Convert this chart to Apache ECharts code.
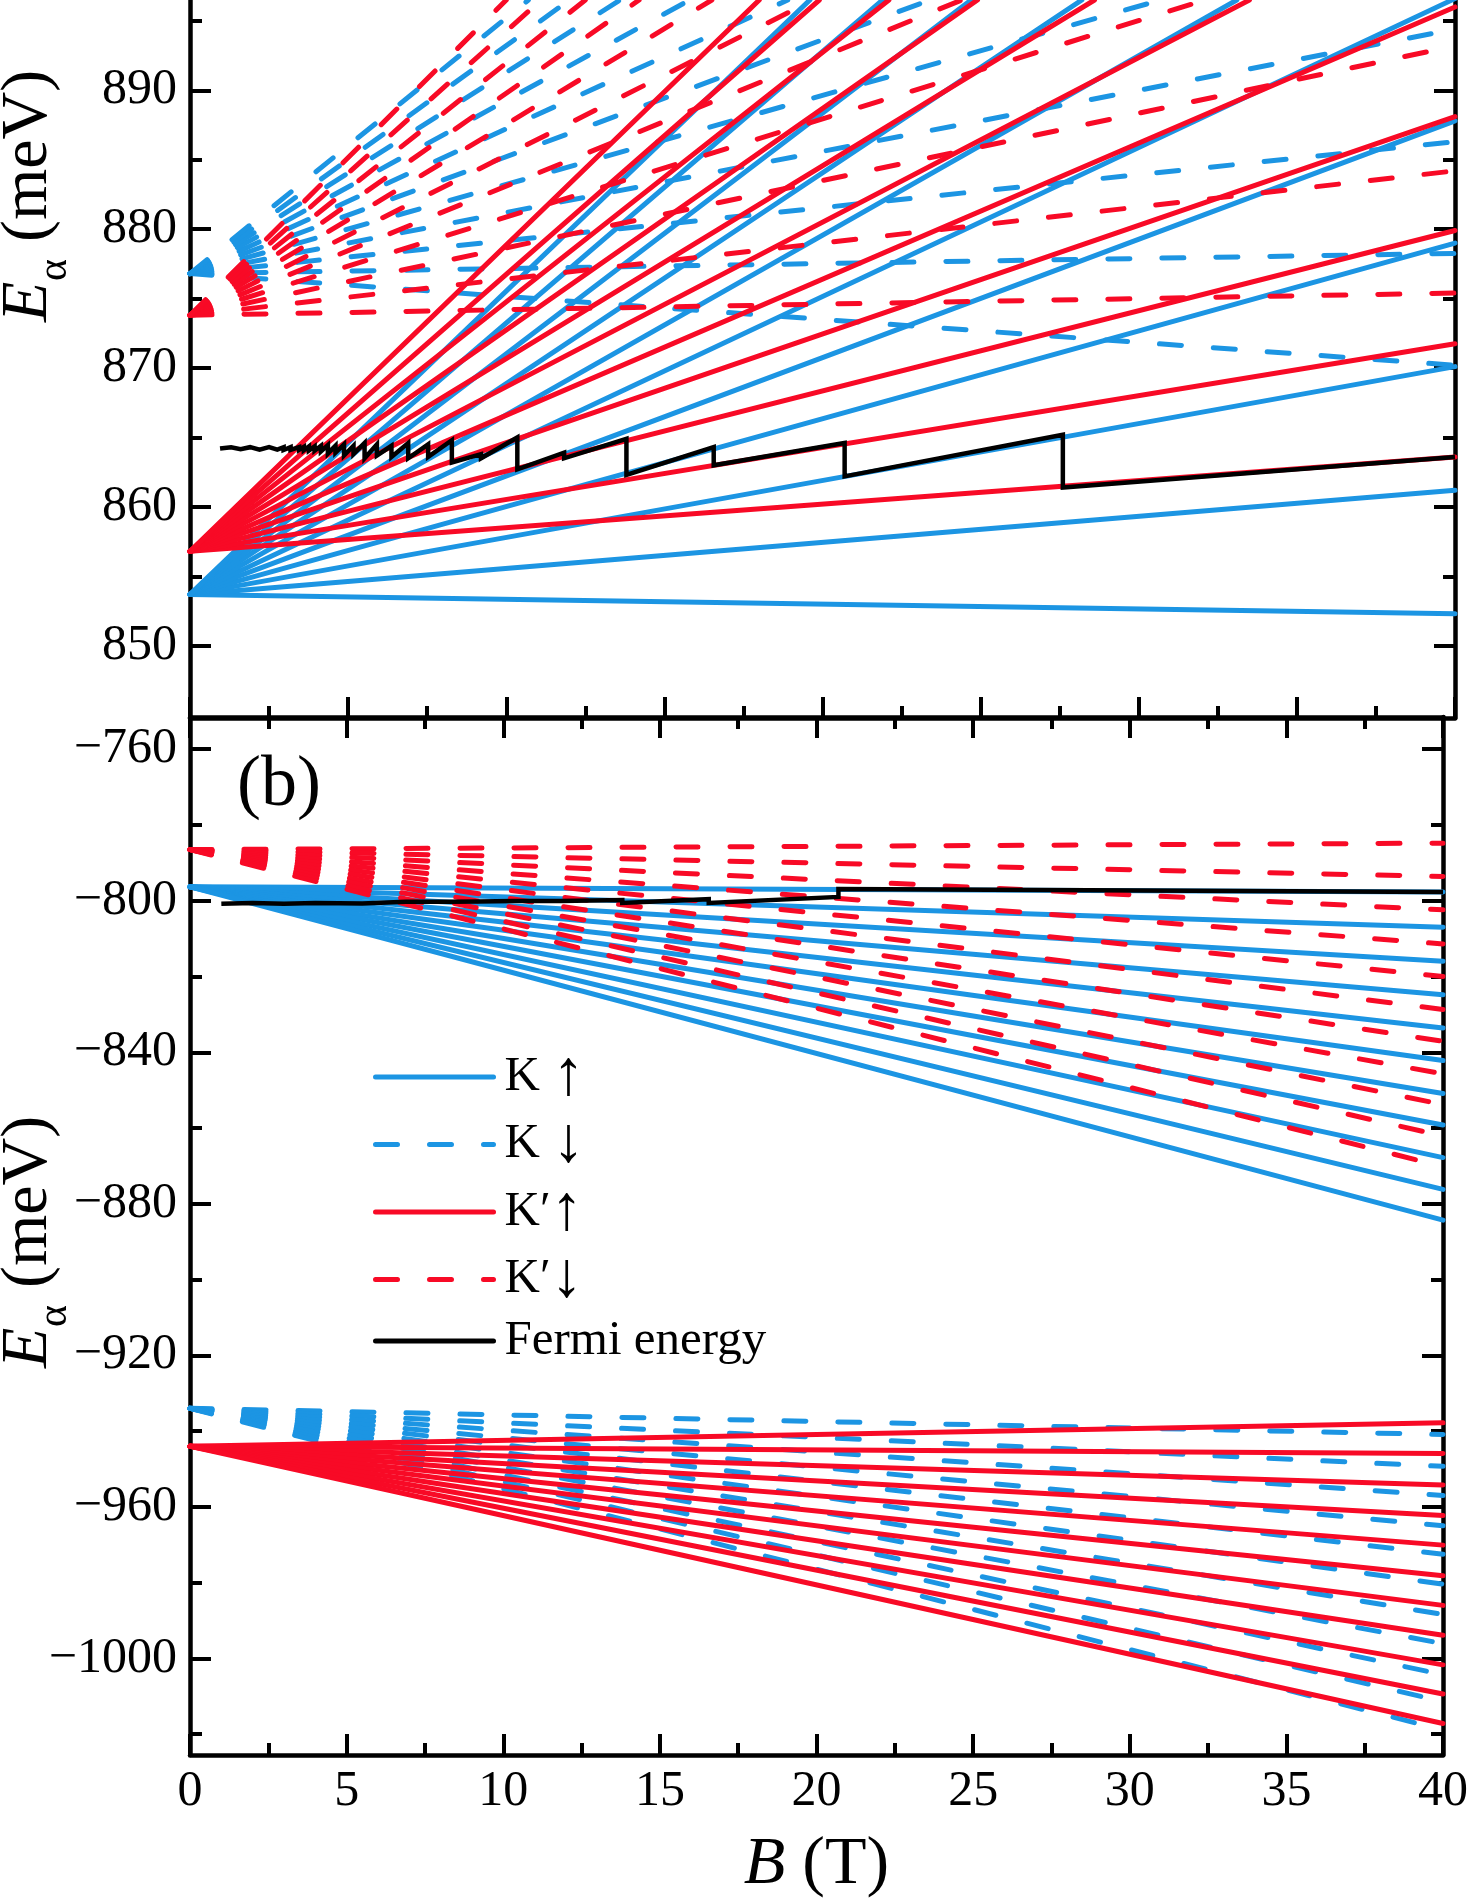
<!DOCTYPE html>
<html>
<head>
<meta charset="utf-8">
<script src="https://cdn.jsdelivr.net/npm/echarts@6/dist/echarts.min.js"></script>
<style>
html,body{margin:0;padding:0;background:#fff;}
#chart{width:1471px;height:1904px;}
</style>
</head>
<body>
<div id="chart"></div>
<script>
// ---------------- data ----------------
const B_MIN = 0, B_MAX = 40;

// panel (a): conduction band
const topRange = [844.8, 896.5];
const topMajorTicks = [850, 860, 870, 880, 890];
const topMinorTicks = [855, 865, 875, 885, 895];

// K up (blue solid): energy at B=0 and line end points [B, E]
const cbKUpStart = 853.7;
const cbKUpEnds = [[40,852.3],[40,861.2],[40,870.1],[40,879.0],[40,887.8],[40,896.6],[33.1,896.5],[28.2,896.5],[24.7,896.5],[21.9,896.5],[19.6,896.5]];
// K' up (red solid)
const cbKpUpStart = 856.8;
const cbKpUpEnds = [[40,863.6],[40,871.75],[40,879.9],[40,888.1],[40,896.0],[33.5,896.5],[28.6,896.5],[24.9,896.5],[22.1,896.5],[19.9,896.5],[18.0,896.5]];
// K down (blue dashed)
const cbKDnStart = 876.8;
const cbKDnEnds = [[40,870.2],[40,878.25],[40,886.3],[40,894.4],[30.7,896.5],[23.4,896.5],[18.9,896.5],[15.8,896.5],[13.6,896.5],[12.0,896.5],[10.7,896.5]];
// K' down (red dashed)
const cbKpDnStart = 873.8;
const cbKpDnEnds = [[40,875.4],[40,884.2],[40,893.2],[32.1,896.5],[24.4,896.5],[19.7,896.5],[16.5,896.5],[14.2,896.5],[12.5,896.5],[11.1,896.5],[10.0,896.5]];
// Fermi energy (a)
const fermiTop = [[0.95,864.2],[1.3,864.3],[1.6,864.15],[1.9,864.3],[2.2,864.12],[2.5,864.3],[2.76,864.12],
  [2.96,864.3],[2.96,864.1],[3.18,864.3],[3.18,864.1],[3.45,864.3],[3.45,864.1],
  [3.6,864.32],[3.6,864.08],[3.76,864.35],[3.76,864.05],[3.94,864.35],[3.94,864.05],
  [4.14,864.4],[4.14,864.0],[4.36,864.45],[4.36,863.85],[4.6,864.4],[4.6,863.9],
  [4.87,864.5],[4.87,863.7],[5.17,864.4],[5.17,863.8],[5.52,864.6],[5.52,863.5],
  [5.91,864.5],[5.91,863.7],[6.37,864.4],[6.37,863.6],[6.9,864.6],[6.9,863.5],
  [7.53,864.5],[7.53,863.6],[8.28,864.8],[8.28,863.2],[9.2,863.8],[9.2,863.5],
  [10.35,865.0],[10.35,862.7],[11.83,863.9],[11.83,863.5],[13.8,864.9],[13.8,862.3],
  [16.56,864.3],[16.56,863.0],[20.7,864.6],[20.7,862.2],[27.6,865.2],[27.6,861.4],[40,863.6]];

// panel (b): valence band
const botRange = [-1025.5, -751.5];
const botMajorTicks = [-1000, -960, -920, -880, -840, -800, -760];
const botMinorTicks = [-1020, -980, -940, -900, -860, -820, -780];

const vbKUpStart = -796.3;     // blue solid, ends at B=40
const vbKUpEnds = [-797.7,-807.0,-816.0,-824.8,-833.6,-842.2,-850.9,-859.2,-867.8,-876.2,-884.3];
const vbKpDnStart = -786.5;    // red dashed
const vbKpDnEnds = [-784.8,-793.6,-802.4,-811.4,-820.0,-828.7,-837.1,-845.7,-853.8,-862.1,-870.2];
const vbKDnStart = -934.0;     // blue dashed
const vbKDnEnds = [-940.9,-949.3,-957.0,-965.0,-972.5,-980.4,-988.4,-996.1,-1004.3,-1011.4,-1018.9];
const vbKpUpStart = -944.0;    // red solid
const vbKpUpEnds = [-937.8,-945.9,-954.2,-962.3,-970.1,-978.2,-986.0,-993.9,-1001.7,-1009.4,-1017.2];
const fermiBot = [[1.0,-800.8],[2.0,-800.6],[3.0,-800.8],[4.0,-800.6],[5.5,-800.7],[6.9,-800.3],[8.28,-800.3],[8.28,-800.6],[9.2,-800.2],[9.2,-800.5],
  [10.35,-800.1],[10.35,-800.5],[11.83,-800.1],[11.83,-800.5],[13.8,-799.8],[13.8,-800.6],
  [16.56,-799.6],[16.56,-800.6],[20.7,-799.0],[20.7,-796.9],[40,-797.7]];

const legendNames = ['K \u2191', 'K \u2193', 'K\u2032\u2191', 'K\u2032\u2193', 'Fermi energy'];

// ---------------- styles ----------------
const BLUE = '#1C95E3', RED = '#F80A26', BLACK = '#000';
const FONT = '"Liberation Serif", "Times New Roman", Times, serif';
const DASH = [22, 32];
const LW = 5;

function lineSeries(name, start, ends, color, dashed, xi, yi, z) {
  return ends.map(function (e) {
    const end = Array.isArray(e) ? e : [B_MAX, e];
    return {
      type: 'line', name: name, xAxisIndex: xi, yAxisIndex: yi,
      data: [[B_MIN, start], end], symbol: 'none', silent: true, z: z,
      itemStyle: { color: color },
      lineStyle: { color: color, width: LW, type: dashed ? DASH : 'solid', cap: 'round' }
    };
  });
}

let series = [];
// top panel
series = series.concat(lineSeries(legendNames[0], cbKUpStart, cbKUpEnds, BLUE, false, 0, 0, 2));
series = series.concat(lineSeries(legendNames[1], cbKDnStart, cbKDnEnds, BLUE, true, 0, 0, 2));
series = series.concat(lineSeries(legendNames[2], cbKpUpStart, cbKpUpEnds, RED, false, 0, 0, 3));
series = series.concat(lineSeries(legendNames[3], cbKpDnStart, cbKpDnEnds, RED, true, 0, 0, 3));
series.push({ type: 'line', name: legendNames[4], xAxisIndex: 0, yAxisIndex: 0, data: fermiTop, symbol: 'none', silent: true, z: 4,
  itemStyle: { color: BLACK }, lineStyle: { color: BLACK, width: 4.5, join: 'miter' } });
// bottom panel
series = series.concat(lineSeries(legendNames[0], vbKUpStart, vbKUpEnds, BLUE, false, 2, 4, 2));
series = series.concat(lineSeries(legendNames[1], vbKDnStart, vbKDnEnds, BLUE, true, 2, 4, 2));
series = series.concat(lineSeries(legendNames[2], vbKpUpStart, vbKpUpEnds, RED, false, 2, 4, 3));
series = series.concat(lineSeries(legendNames[3], vbKpDnStart, vbKpDnEnds, RED, true, 2, 4, 3));
series.push({ type: 'line', name: legendNames[4], xAxisIndex: 2, yAxisIndex: 4, data: fermiBot, symbol: 'none', silent: true, z: 4,
  itemStyle: { color: BLACK }, lineStyle: { color: BLACK, width: 4.5, join: 'miter' } });

const AXW = 4.5;
function xAxisCfg(grid, pos, labels) {
  return {
    type: 'value', gridIndex: grid, position: pos, min: B_MIN, max: B_MAX, interval: 5,
    axisLine: { show: true, onZero: false, lineStyle: { color: BLACK, width: AXW } },
    axisTick: { show: true, inside: true, length: 21, lineStyle: { color: BLACK, width: 4 } },
    minorTick: { show: true, splitNumber: 2, length: 12, lineStyle: { color: BLACK, width: 4 } },
    axisLabel: { show: labels, fontFamily: FONT, fontSize: 50, color: BLACK, margin: 12 },
    splitLine: { show: false }, minorSplitLine: { show: false }
  };
}
function yAxisCfg(grid, pos, range, ticks, major, labels) {
  return {
    type: 'value', gridIndex: grid, position: pos, min: range[0], max: range[1],
    axisLine: { show: major, onZero: false, lineStyle: { color: BLACK, width: AXW } },
    axisTick: { show: true, inside: true, length: major ? 21 : 12, customValues: ticks, lineStyle: { color: BLACK, width: 4 } },
    axisLabel: { show: labels, customValues: ticks, fontFamily: FONT, fontSize: 50, color: BLACK, margin: 13,
      formatter: function (v) { return String(v).replace('-', '\u2212'); } },
    splitLine: { show: false }
  };
}

function yTitle(cx, cy) {
  // rotated group: local +x goes up the page
  return {
    type: 'group', x: cx, y: cy, rotation: Math.PI / 2, silent: true,
    children: [
      { type: 'text', x: 0, y: 14, style: { text: 'E', font: 'italic 66px "Liberation Serif"', fill: BLACK, align: 'left', verticalAlign: 'bottom' } },
      { type: 'text', x: 41, y: 28, style: { text: '\u03b1', font: '42px "Liberation Serif"', fill: BLACK, align: 'left', verticalAlign: 'bottom' } },
      { type: 'text', x: 80, y: 14, style: { text: '(meV)', font: '66px "Liberation Serif"', fill: BLACK, align: 'left', verticalAlign: 'bottom' } }
    ]
  };
}

function legendItem(i, color, dashed) {
  return { name: legendNames[i], itemStyle: { opacity: 0 },
    lineStyle: { color: color, width: 5, type: dashed ? [22, 32] : 'solid', cap: 'round' } };
}

const option = {
  animation: false,
  backgroundColor: '#fff',
  grid: [
    { left: 190, right: 16, top: 0, height: 718, containLabel: false },
    { left: 190, right: 16, top: 717, height: 1044, containLabel: false }
  ],
  xAxis: [
    xAxisCfg(0, 'bottom', false),
    xAxisCfg(1, 'top', false),
    Object.assign(xAxisCfg(1, 'bottom', true), {
      name: '{i|B} (T)', nameLocation: 'middle', nameGap: 76,
      nameTextStyle: { fontFamily: FONT, fontSize: 68, color: BLACK,
        rich: { i: { fontFamily: FONT, fontSize: 68, fontStyle: 'italic', color: BLACK } } }
    })
  ],
  yAxis: [
    yAxisCfg(0, 'left', topRange, topMajorTicks, true, true),
    yAxisCfg(0, 'left', topRange, topMinorTicks, false, false),
    yAxisCfg(0, 'right', topRange, topMajorTicks, true, false),
    yAxisCfg(0, 'right', topRange, topMinorTicks, false, false),
    yAxisCfg(1, 'left', botRange, botMajorTicks, true, true),
    yAxisCfg(1, 'left', botRange, botMinorTicks, false, false),
    yAxisCfg(1, 'right', botRange, botMajorTicks, true, false),
    yAxisCfg(1, 'right', botRange, botMinorTicks, false, false)
  ],
  legend: {
    orient: 'vertical', left: 368, top: 1040, itemWidth: 118, itemHeight: 12, itemGap: 3.5,
    selectedMode: false, itemStyle: { opacity: 0 },
    data: [legendItem(0, BLUE, false), legendItem(1, BLUE, true), legendItem(2, RED, false), legendItem(3, RED, true), legendItem(4, BLACK, false)],
    formatter: function (name) { return name.replace(/([\u2191\u2193])/, '{a|$1}'); },
    textStyle: { fontFamily: FONT, fontSize: 49, color: BLACK, lineHeight: 52, padding: [0, 0, 0, 6],
      rich: { a: { fontFamily: FONT, fontSize: 64, lineHeight: 52, color: BLACK } } }
  },
  graphic: [
    yTitle(48, 322),
    yTitle(48, 1368),
    { type: 'text', x: 279, y: 786, silent: true,
      style: { text: '(b)', font: '72px "Liberation Serif"', fill: BLACK, align: 'center', verticalAlign: 'middle' } }
  ],
  series: series
};

const chart = echarts.init(document.getElementById('chart'), null, { renderer: 'canvas' });
chart.setOption(option);
</script>
</body>
</html>
